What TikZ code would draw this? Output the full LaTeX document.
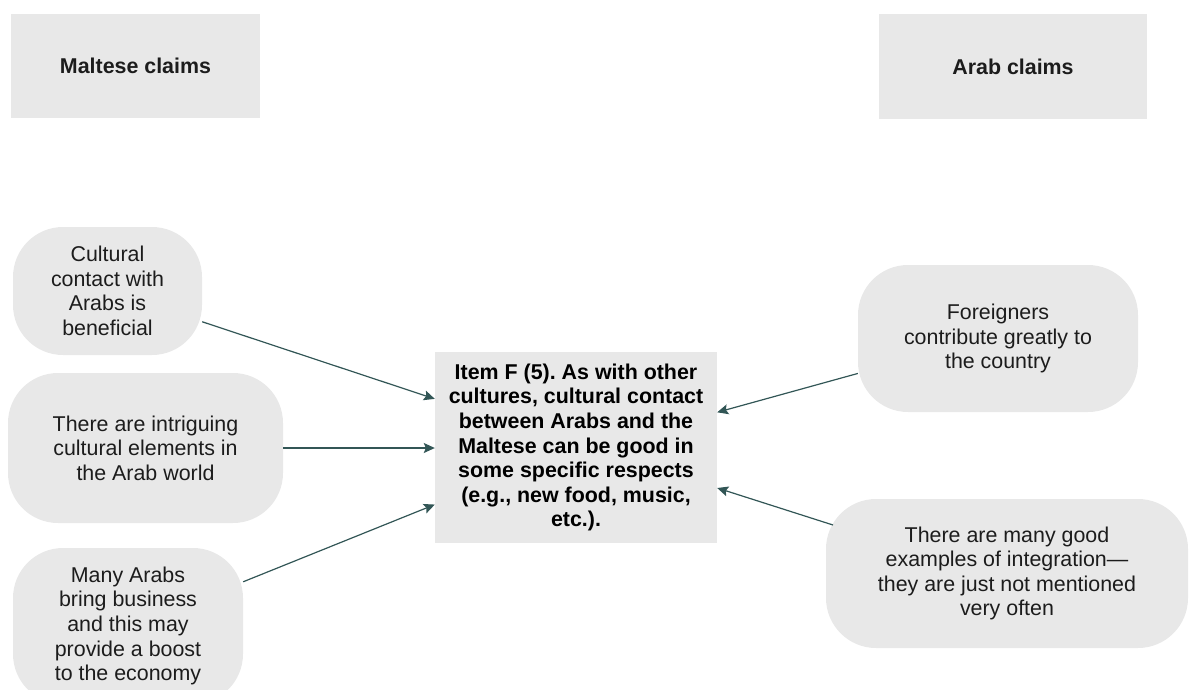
\documentclass[tikz,border=0pt]{standalone}
\usepackage{fontspec}
\setmainfont{Liberation Sans}
\usetikzlibrary{arrows.meta, positioning}
\frenchspacing

\definecolor{boxgray}{RGB}{232,232,232}
\definecolor{linkteal}{RGB}{50,86,86}
\definecolor{inkgray}{RGB}{28,28,28}

\begin{document}
\begin{tikzpicture}[
  x=1pt, y=-1pt,
  heading/.style={rectangle, fill=boxgray, inner sep=0pt, align=center,
                  text=inkgray, font=\fontsize{21.4}{24.6}\selectfont\bfseries},
  claim/.style={rectangle, fill=boxgray, rounded corners=50pt, inner sep=0pt,
                align=center, text=inkgray, font=\fontsize{21.4}{24.6}\selectfont},
  item/.style={rectangle, fill=boxgray, inner sep=0pt, align=center,
               text=black, font=\fontsize{21.4}{24.6}\selectfont\bfseries},
  arrow/.style={-{Stealth[length=11pt, width=10pt, inset=2pt]},
                draw=linkteal, line width=1.2pt},
]
\useasboundingbox (0,0) rectangle (1197,689);
\clip (0,0) rectangle (1197,689);

% ---- headings ----
\node[heading, minimum width=249pt, minimum height=104pt] (hd-maltese) at (135.5,66)   {Maltese claims};
\node[heading, minimum width=268pt, minimum height=105pt] (hd-arab)    at (1013,66.5)  {Arab claims};

% ---- Maltese claims ----
\node[claim, minimum width=189pt, minimum height=128pt] (mt-contact)  at (107.5,291) {Cultural\\contact with\\Arabs is\\beneficial};
\node[claim, minimum width=275pt, minimum height=150pt] (mt-elements) at (145.5,448) {There are intriguing\\cultural elements in\\the Arab world};
\node[claim, minimum width=230pt, minimum height=156pt] (mt-business) at (128,626)   {Many Arabs\\bring business\\and this may\\provide a boost\\to the economy};

% ---- item ----
\node[item, minimum width=282pt, minimum height=191pt] (item-f) at (576,447.5)
  {Item F (5). As with other\\cultures, cultural contact\\between Arabs and the\\Maltese can be good in\\some specific respects\\(e.g., new food, music,\\etc.).};

% ---- Arab claims ----
\node[claim, minimum width=280pt, minimum height=147pt] (ar-foreign) at (998,338.5)  {Foreigners\\contribute greatly to\\the country};
\node[claim, minimum width=362pt, minimum height=149pt] (ar-integr)  at (1007,573.5) {There are many good\\examples of integration---\\they are just not mentioned\\very often};

% ---- links ----
\draw[arrow] (mt-contact.-18.7) -- (item-f.161.4);
\draw[arrow] (mt-elements.east) -- (mt-elements.east -| item-f.west);
\draw[arrow] (mt-business.21.8) -- (item-f.-158.5);
\draw[arrow] (ar-foreign.194.6) -- (item-f.14.9);
\draw[arrow] ([shift={(-174,-48.5)}]ar-integr.center) -- (item-f.-16.8);

\end{tikzpicture}
\end{document}
